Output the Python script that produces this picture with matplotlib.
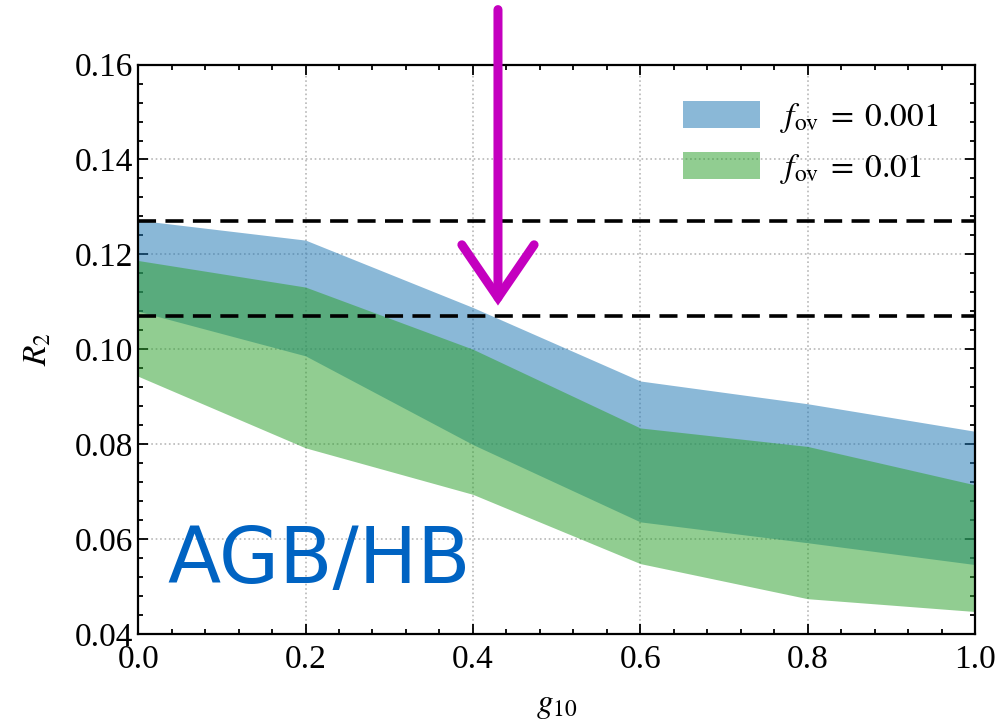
import matplotlib
matplotlib.use('Agg')
import matplotlib.pyplot as plt
from matplotlib.ticker import MultipleLocator

# g10 grid points
g10 = [0.0, 0.2, 0.4, 0.6, 0.8, 1.0]

# f_ov = 0.001 band
blue_lo = [0.1080, 0.0986, 0.0799, 0.0636, 0.0592, 0.0546]
blue_hi = [0.1272, 0.1230, 0.1088, 0.0933, 0.0885, 0.0827]

# f_ov = 0.01 band
green_lo = [0.0943, 0.0792, 0.0694, 0.0548, 0.0474, 0.0447]
green_hi = [0.1187, 0.1131, 0.1000, 0.0834, 0.0795, 0.0714]

obs_lines = [0.127, 0.107]
labels = [r'$f_{\rm ov} \;=\; 0.001$', r'$f_{\rm ov} \;=\; 0.01$']

plt.rcParams['font.family'] = ['Liberation Serif', 'DejaVu Serif']
plt.rcParams['mathtext.fontset'] = 'stix'

fig = plt.figure(figsize=(10.01, 7.26), dpi=100)
ax = fig.add_axes([0.138, 0.127, 0.836, 0.784])

ax.fill_between(g10, blue_lo, blue_hi, color='#1f77b4', alpha=0.52, lw=0, label=labels[0])
ax.fill_between(g10, green_lo, green_hi, color='#2ca02c', alpha=0.52, lw=0, label=labels[1])

for y in obs_lines:
    ax.axhline(y, color='k', ls=(0, (5, 2.6)), lw=2.6)

ax.set_xlim(0, 1)
ax.set_ylim(0.04, 0.16)
ax.xaxis.set_major_locator(MultipleLocator(0.2))
ax.xaxis.set_minor_locator(MultipleLocator(0.04))
ax.yaxis.set_major_locator(MultipleLocator(0.02))
ax.yaxis.set_minor_locator(MultipleLocator(0.004))
ax.xaxis.set_major_formatter(matplotlib.ticker.FormatStrFormatter('%.1f'))
ax.yaxis.set_major_formatter(matplotlib.ticker.FormatStrFormatter('%.2f'))
ax.tick_params(which='both', direction='in', top=True, right=True, labelsize=24, width=1.3)
ax.tick_params(which='major', length=7)
ax.tick_params(which='minor', length=3.5)
ax.tick_params(axis='x', pad=8)
for s in ax.spines.values():
    s.set_linewidth(1.6)
ax.grid(True, which='major', ls=':', color='#b8b8b8', lw=1.2)
ax.set_axisbelow(True)

ax.set_xlabel(r'$g_{10}$', fontsize=24, labelpad=11)
ax.set_ylabel(r'$R_2$', fontsize=24, labelpad=15)

leg = ax.legend(loc='upper right', fontsize=24, frameon=False, handlelength=2.3,
                handleheight=0.85, borderaxespad=0.7, labelspacing=0.5, handletextpad=0.6)

ax.text(0.216, 0.0553, 'AGB/HB', color='#0063c2', fontsize=56, family='DejaVu Sans',
        ha='center', va='center')

ax.annotate('', xy=(0.43, 0.1092), xytext=(0.43, 0.1716), annotation_clip=False,
            arrowprops=dict(arrowstyle='->,head_length=1.9,head_width=1.3',
                            mutation_scale=20, color='#c400bf', lw=6.5,
                            shrinkA=0, shrinkB=0, joinstyle='miter', capstyle='round'))

fig.savefig('out.png', dpi=100)
